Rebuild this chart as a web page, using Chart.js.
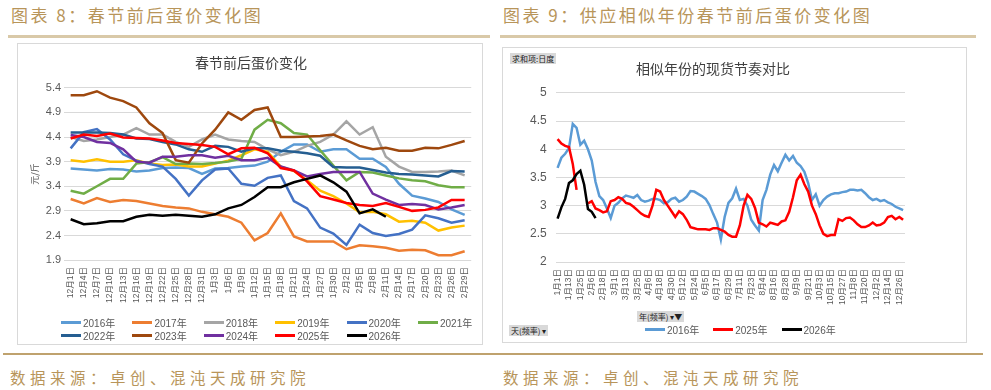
<!DOCTYPE html>
<html><head><meta charset="utf-8">
<script src="https://cdn.jsdelivr.net/npm/chart.js@4.4.1/dist/chart.umd.min.js"></script>
<style>
body{margin:0;background:#fff;width:991px;height:390px;overflow:hidden;position:relative;font-family:"Noto Sans CJK SC","Liberation Sans",sans-serif;}
.hdr{position:absolute;top:4px;font-size:17px;letter-spacing:2.5px;color:#B8955A;line-height:22px;white-space:nowrap;}
.rule{position:absolute;height:3px;background:#D9C9A8;}
.box{position:absolute;border:1px solid #D9D9D9;box-sizing:border-box;}
canvas{position:absolute;}
.src{position:absolute;top:367px;font-size:15.5px;letter-spacing:4.5px;color:#B8955A;white-space:nowrap;line-height:20px}
.lg{position:absolute;font-family:"Liberation Sans","Noto Sans CJK SC",sans-serif;font-size:10px;color:#595959;}
.lg .it{display:flex;align-items:center;height:13px;white-space:nowrap}
.lg .sw{width:20px;height:2.5px;margin-right:2px}
.btn{position:absolute;background:#D9D9D9;font-size:8px;color:#222;line-height:11px;height:11px;padding:0 2px;white-space:nowrap}
</style></head><body>
<div class="hdr" style="left:11px">图表 8：春节前后蛋价变化图</div>
<div class="hdr" style="left:503px">图表 9：供应相似年份春节前后蛋价变化图</div>
<div class="rule" style="left:8px;width:482px;top:35px"></div>
<div class="rule" style="left:500px;width:476px;top:35px"></div>
<div class="box" style="left:17px;top:43px;width:466px;height:302px"></div>
<div class="box" style="left:502px;top:47px;width:465px;height:296px"></div>
<canvas id="c1" width="464" height="300" style="left:18px;top:44px"></canvas>
<canvas id="c2" width="462" height="294" style="left:504px;top:48px"></canvas>
<div class="lg" id="lg1" style="left:61px;top:316px;display:grid;grid-template-columns:repeat(6,71.4px)"></div>
<div class="lg" id="lg2" style="left:645px;top:323px;display:flex;gap:14px"></div>
<div class="btn" style="left:510px;top:53px">求和项:日度</div>
<div class="btn" style="left:637px;top:311px">年(频率) ▾▼</div>
<div class="btn" style="left:509px;top:325px">天(频率) ▾</div>
<div style="position:absolute;left:3px;width:980px;top:353px;height:2px;background:#BFA26E"></div>
<div class="src" style="left:10px">数据来源：卓创、混沌天成研究院</div>
<div class="src" style="left:503px">数据来源：卓创、混沌天成研究院</div>
<script>
// ---------- Chart 1 data ----------
const leftDays = ['12月1日','12月4日','12月7日','12月10日','12月13日','12月16日','12月19日','12月22日','12月25日','12月28日','12月31日',
 '1月3日','1月6日','1月9日','1月12日','1月15日','1月18日','1月21日','1月24日','1月27日','1月30日',
 '2月2日','2月5日','2月8日','2月11日','2月14日','2月17日','2月20日','2月23日','2月26日','2月29日'];
const leftNames = ['2016年','2017年','2018年','2019年','2020年','2021年','2022年','2023年','2024年','2025年','2026年'];
const y2016 = [3.76,3.74,3.72,3.75,3.74,3.7,3.72,3.77,3.78,3.77,3.65,3.76,3.77,3.8,3.82,3.9,4.1,4.25,4.25,4.1,4.15,4.15,3.96,3.96,3.79,3.45,3.21,3.15,3.08,2.93,2.82];
const y2017 = [3.14,3.05,3.16,3.08,3.12,3.1,3.05,3.0,2.97,2.95,2.88,2.83,2.78,2.66,2.3,2.45,2.85,2.38,2.28,2.28,2.28,2.12,2.2,2.18,2.15,2.09,2.11,2.1,2.0,2.0,2.08];
const y2018 = [4.4,4.32,4.35,4.4,4.45,4.58,4.45,4.45,4.3,4.2,4.35,4.45,4.35,4.32,4.3,4.15,4.03,4.1,4.22,4.3,4.45,4.72,4.45,4.6,4.0,3.8,3.69,3.69,3.7,3.72,3.62];
const y2019 = [3.93,3.9,3.95,3.9,3.9,3.93,3.86,3.83,3.84,3.8,3.8,3.86,3.92,4.03,4.15,4.1,3.8,3.71,3.52,3.31,3.2,3.05,2.87,2.88,2.83,2.68,2.7,2.66,2.5,2.56,2.6];
const y2020 = [4.17,4.5,4.56,4.35,4.05,3.92,3.85,3.8,3.55,3.21,3.52,3.74,3.76,3.45,3.41,3.57,3.62,3.1,2.95,2.56,2.44,2.21,2.62,2.45,2.39,2.43,2.52,2.81,2.75,2.66,2.71];
const y2021 = [3.31,3.25,3.4,3.55,3.55,3.86,3.89,3.99,3.85,3.86,3.85,3.87,3.9,3.96,4.55,4.75,4.68,4.48,4.45,4.13,3.82,3.52,3.69,3.68,3.62,3.56,3.52,3.5,3.42,3.38,3.38];
const y2022 = [4.49,4.49,4.49,4.48,4.45,4.37,4.36,4.3,4.25,4.15,4.1,4.22,4.2,4.1,4.17,4.17,4.12,4.1,4.07,4.02,3.79,3.78,3.78,3.73,3.68,3.65,3.64,3.62,3.6,3.71,3.7];
const y2023 = [5.25,5.25,5.33,5.2,5.13,5.0,4.68,4.48,3.93,3.88,4.27,4.55,4.9,4.75,4.95,5.0,4.4,4.4,4.41,4.42,4.45,4.33,4.22,4.15,4.18,4.12,4.12,4.18,4.17,4.24,4.32];
const y2024 = [4.44,4.4,4.3,4.28,4.15,3.9,3.88,4.0,4.0,4.03,4.03,3.98,4.02,3.93,3.93,3.98,3.8,3.72,3.6,3.65,3.69,3.69,3.69,3.25,3.13,3.02,3.04,3.02,2.93,2.97,3.02];
const y2025 = [4.37,4.45,4.42,4.47,4.39,4.38,4.37,4.33,4.28,4.26,4.24,4.2,4.05,4.17,4.18,4.07,3.77,3.72,3.5,3.2,3.13,3.06,3.02,3.0,3.06,2.98,2.9,2.92,2.97,3.12,3.12];
const y2026 = [2.73,2.63,2.65,2.69,2.69,2.78,2.82,2.8,2.82,2.8,2.78,2.83,2.95,3.02,3.18,3.38,3.38,3.48,3.55,3.62,3.48,3.29,2.85,2.93,2.78,null,null,null,null,null,null];
const leftTicks = [1.9,2.4,2.9,3.4,3.9,4.4,4.9,5.4];

// ---------- Chart 2 data ----------
const rightDays = ['1月1日','1月5日','1月9日','1月13日','1月17日','1月21日','1月25日','1月29日',
 '2月2日','2月6日','2月10日','2月14日','2月18日','2月22日','2月26日',
 '3月1日','3月5日','3月9日','3月13日','3月17日','3月21日','3月25日','3月29日',
 '4月2日','4月6日','4月10日','4月14日','4月18日','4月22日','4月26日','4月30日',
 '5月4日','5月8日','5月12日','5月16日','5月20日','5月24日','5月28日',
 '6月1日','6月5日','6月9日','6月13日','6月17日','6月21日','6月25日','6月29日',
 '7月3日','7月7日','7月11日','7月15日','7月19日','7月23日','7月27日','7月31日',
 '8月4日','8月8日','8月12日','8月16日','8月20日','8月24日','8月28日',
 '9月1日','9月5日','9月9日','9月13日','9月17日','9月21日','9月25日','9月29日',
 '10月3日','10月7日','10月11日','10月15日','10月19日','10月23日','10月27日','10月31日',
 '11月4日','11月8日','11月12日','11月16日','11月20日','11月24日','11月28日',
 '12月2日','12月6日','12月10日','12月14日','12月18日','12月22日','12月26日','12月30日'];
const rightTickLabels = ['1月1日','1月13日','1月25日','2月6日','2月18日','3月1日','3月13日','3月25日','4月6日','4月18日','4月30日',
 '5月12日','5月24日','6月5日','6月17日','6月29日','7月11日','7月23日','8月4日','8月16日','8月28日','9月9日','9月21日',
 '10月3日','10月15日','10月27日','11月8日','11月20日','12月2日','12月14日','12月26日'];
const rightNames = ['2016年','2025年','2026年'];
const r2016 = [3.67,3.85,3.92,4.02,4.45,4.38,4.08,4.15,4.0,3.8,3.42,3.17,3.1,2.95,2.78,3.0,3.05,3.13,3.18,3.16,3.14,3.19,3.1,3.07,3.09,3.12,3.12,3.1,3.04,3.06,3.12,
 3.14,3.07,3.1,3.16,3.26,3.25,3.21,3.17,3.12,3.01,2.85,2.7,2.4,2.8,3.05,3.13,3.3,3.1,3.12,3.0,2.75,2.65,2.56,3.1,3.28,3.55,3.72,3.61,3.76,3.9,
 3.8,3.88,3.76,3.7,3.6,3.4,3.1,3.2,3.0,3.1,3.16,3.2,3.22,3.22,3.24,3.25,3.28,3.28,3.27,3.28,3.22,3.15,3.1,3.12,3.08,3.1,3.06,3.03,2.98,2.95,2.92];
const r2025 = [4.18,4.1,4.06,4.04,3.74,3.28,null,null,3.04,3.08,2.95,2.92,2.88,2.9,3.08,3.1,3.15,3.12,3.05,3.03,2.98,2.92,2.86,2.82,2.8,3.0,3.28,3.25,3.1,3.0,2.9,
 2.8,2.9,2.85,2.75,2.62,2.6,2.58,2.58,2.58,2.57,2.6,2.6,2.57,2.54,2.48,2.45,2.45,2.65,3.0,3.19,3.12,2.96,2.7,2.67,2.63,2.7,2.68,2.66,2.72,2.74,
 2.89,3.15,3.45,3.55,3.38,3.25,3.0,2.85,2.65,2.5,2.46,2.48,2.48,2.76,2.73,2.78,2.79,2.74,2.67,2.62,2.62,2.65,2.7,2.65,2.66,2.7,2.8,2.82,2.76,2.8,2.75];
const r2026 = [2.77,2.97,3.12,3.4,3.45,3.56,3.62,3.37,2.94,2.89,2.78];

// ---------- styles ----------
const FONT = '"Liberation Sans","Noto Sans CJK SC",sans-serif';
const leftColors = ['#5B9BD5','#ED7D31','#A5A5A5','#FFC000','#4472C4','#70AD47','#255E91','#9E480E','#7030A0','#FF0000','#000000'];
const rightColors = ['#5B9BD5','#FF0000','#000000'];
const leftSeries = [y2016,y2017,y2018,y2019,y2020,y2021,y2022,y2023,y2024,y2025,y2026];
const rightSeries = [r2016,r2025,r2026];

function mkSets(names, series, colors){
  return names.map((n,i)=>({label:n,data:series[i],borderColor:colors[i],backgroundColor:colors[i],
    borderWidth:2.5,pointRadius:0,pointHoverRadius:0,tension:0,spanGaps:false,order:names.length-i}));
}
function htmlLegend(el, names, colors){
  names.forEach((n,i)=>{
    const it=document.createElement('div');it.className='it';
    const sw=document.createElement('span');sw.className='sw';sw.style.background=colors[i];
    const tx=document.createElement('span');tx.textContent=n;
    it.appendChild(sw);it.appendChild(tx);el.appendChild(it);
  });
}

new Chart(document.getElementById('c1'),{
  type:'line',
  data:{labels:leftDays,datasets:mkSets(leftNames,leftSeries,leftColors)},
  options:{
    animation:false,responsive:false,maintainAspectRatio:false,
    layout:{padding:{left:11,right:9,top:0,bottom:34}},
    plugins:{legend:{display:false},tooltip:{enabled:false},
      title:{display:true,text:'春节前后蛋价变化',color:'#404040',font:{size:14,family:'"Noto Sans CJK SC",sans-serif',weight:'normal'},padding:{top:10,bottom:17}}},
    scales:{
      x:{offset:true,grid:{display:false,drawTicks:false},border:{display:false},
         ticks:{autoSkip:false,maxRotation:90,minRotation:90,font:{size:8.5,family:FONT},color:'#595959',padding:7}},
      y:{min:1.9,max:5.4,afterBuildTicks:(s)=>{s.ticks=leftTicks.map(v=>({value:v}));},
         ticks:{font:{size:11,family:FONT},color:'#595959',padding:3,callback:v=>Number(v).toFixed(1)},
         grid:{color:'#D9D9D9',drawTicks:false},border:{display:false},
         title:{display:true,text:'元/斤',font:{size:9,family:'"Noto Sans CJK SC",sans-serif'},color:'#595959',padding:{top:0,bottom:3}}}
    }
  }
});
htmlLegend(document.getElementById('lg1'),leftNames,leftColors);

const tickSet = new Set(rightTickLabels);
new Chart(document.getElementById('c2'),{
  type:'line',
  data:{labels:rightDays,datasets:mkSets(rightNames,rightSeries,rightColors)},
  options:{
    animation:false,responsive:false,maintainAspectRatio:false,
    layout:{padding:{left:17,right:61,top:0,bottom:30}},
    plugins:{legend:{display:false},tooltip:{enabled:false},
      title:{display:true,text:'相似年份的现货节奏对比',color:'#404040',font:{size:14,family:'"Noto Sans CJK SC",sans-serif',weight:'normal'},padding:{top:12,bottom:16}}},
    scales:{
      x:{offset:true,grid:{display:false,drawTicks:false},border:{display:false},
         ticks:{autoSkip:false,maxRotation:90,minRotation:90,font:{size:8.5,family:FONT},color:'#595959',padding:7,
           callback:function(v,i){const l=rightDays[i];return tickSet.has(l)?l:'';}}},
      y:{min:2,max:5,ticks:{stepSize:0.5,font:{size:12,family:FONT},color:'#595959',padding:9,
           callback:v=>String(Number(Number(v).toFixed(1)))},
         grid:{color:'#D9D9D9',drawTicks:false},border:{display:false}}
    }
  }
});
htmlLegend(document.getElementById('lg2'),rightNames,rightColors);
</script>
</body></html>
